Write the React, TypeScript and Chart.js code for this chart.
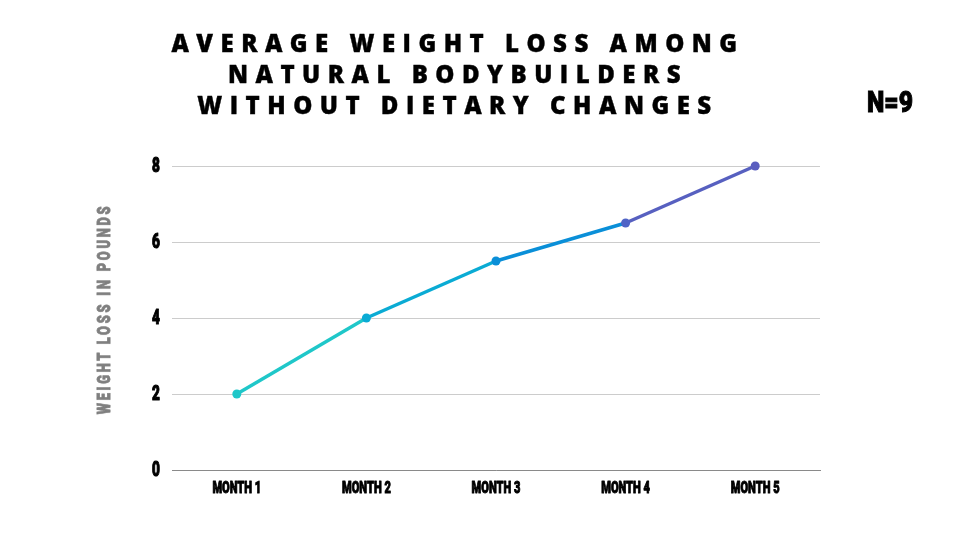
import React, { useEffect, useRef } from "react";
import { Chart, registerables } from "chart.js";

Chart.register(...registerables);

const titleLines = ["AVERAGE WEIGHT LOSS AMONG", "NATURAL BODYBUILDERS", "WITHOUT DIETARY CHANGES"];
const sampleLabel = "N=9";
const yAxisTitle = "WEIGHT LOSS IN POUNDS";
const categories = ["MONTH 1", "MONTH 2", "MONTH 3", "MONTH 4", "MONTH 5"];
const weightLoss = [2, 4, 5.5, 6.5, 8];
const segmentColors = ["#1fc7c9", "#0aabd4", "#0a8fd8", "#5760c0"];
const pointColors = ["#1fc7c9", "#0aabd4", "#0a8fd8", "#4f63c6", "#5a5ebf"];

const heavyFamily = "Roboto, 'Liberation Sans', sans-serif";

// Draws tick labels in a narrow, heavy style (horizontally compressed) at the scales' own tick positions.
const condensedTickLabels = {
  id: "condensedTickLabels",
  afterDraw(chart: any) {
    const ctx = chart.ctx as CanvasRenderingContext2D;
    const xs = chart.scales.x;
    const ys = chart.scales.y;
    ctx.save();
    ctx.fillStyle = "#000";
    ctx.strokeStyle = "#000";
    ctx.lineJoin = "round";
    ctx.textBaseline = "middle";

    ctx.font = `900 20px ${heavyFamily}`;
    ctx.textAlign = "right";
    ctx.lineWidth = 1.1;
    ys.ticks.forEach((t: any, i: number) => {
      const y = ys.getPixelForTick(i);
      ctx.save();
      ctx.translate(ys.right - 12, y + 1);
      ctx.scale(0.68, 1);
      ctx.fillText(String(t.label), 0, 0);
      ctx.strokeText(String(t.label), 0, 0);
      ctx.restore();
    });

    ctx.font = `900 17px ${heavyFamily}`;
    ctx.textAlign = "center";
    ctx.lineWidth = 1;
    xs.ticks.forEach((t: any, i: number) => {
      const x = xs.getPixelForTick(i);
      ctx.save();
      ctx.translate(x, xs.top + 19);
      ctx.scale(0.65, 1);
      ctx.fillText(String(t.label), 0, 0);
      ctx.strokeText(String(t.label), 0, 0);
      ctx.restore();
    });
    ctx.restore();
  },
};

export default function App() {
  const canvasRef = useRef<HTMLCanvasElement | null>(null);

  useEffect(() => {
    document.body.style.margin = "0";
    const canvas = canvasRef.current;
    if (!canvas) return;

    const chart = new Chart(canvas, {
      type: "line",
      data: {
        labels: categories,
        datasets: [
          {
            data: weightLoss,
            borderWidth: 3.5,
            tension: 0,
            clip: false,
            pointRadius: 4.5,
            pointHoverRadius: 4.5,
            borderColor: segmentColors[0],
            segment: {
              borderColor: (ctx: any) => segmentColors[ctx.p0DataIndex],
            },
            pointBackgroundColor: pointColors,
            pointBorderColor: pointColors,
            pointBorderWidth: 0,
          },
        ],
      },
      options: {
        responsive: false,
        animation: false,
        layout: { padding: { left: 0, top: 166, right: 140, bottom: 40 } },
        plugins: {
          legend: { display: false },
          title: { display: false },
          tooltip: { enabled: false },
        },
        scales: {
          x: {
            offset: true,
            grid: { display: false, drawTicks: false },
            border: { display: true, color: "#8a8a8a", width: 1 },
            ticks: {
              color: "rgba(0,0,0,0)",
              padding: 10,
              font: { family: heavyFamily, size: 15, weight: "bold" },
            },
            afterFit: (scale: any) => {
              scale.height = 30;
            },
          },
          y: {
            min: 0,
            max: 8,
            ticks: {
              stepSize: 2,
              color: "rgba(0,0,0,0)",
              padding: 12,
              font: { family: heavyFamily, size: 19, weight: "bold" },
            },
            grid: { color: "#cccccc", lineWidth: 1, drawTicks: false },
            border: { display: false },
            afterFit: (scale: any) => {
              scale.width = 172;
            },
          },
        },
      },
      plugins: [condensedTickLabels],
    });

    return () => chart.destroy();
  }, []);

  return (
    <div style={{ position: "absolute", left: 0, top: 0, width: 960, height: 540, background: "#fff", overflow: "hidden" }}>
      <canvas ref={canvasRef} width={960} height={540} style={{ position: "absolute", left: 0, top: 0 }} />
      <div
        style={{
          position: "absolute",
          left: 158,
          width: 600,
          top: 27,
          textAlign: "center",
          fontFamily: "'Open Sans', 'DejaVu Sans', sans-serif",
          fontWeight: 800,
          fontSize: 24,
          lineHeight: "31px",
          letterSpacing: "7.5px",
          color: "#000",
          WebkitTextStroke: "0.4px #000",
        }}
      >
        {titleLines.map((l, i) => (
          <div key={i}>{l}</div>
        ))}
      </div>
      <div
        style={{
          position: "absolute",
          left: 890,
          top: 102,
          transform: "translate(-50%, -50%) scaleX(0.85)",
          whiteSpace: "nowrap",
          fontFamily: heavyFamily,
          fontWeight: 900,
          fontSize: 29,
          lineHeight: "34px",
          color: "#000",
          WebkitTextStroke: "1px #000",
        }}
      >
        {sampleLabel}
      </div>
      <div
        style={{
          position: "absolute",
          left: 104,
          top: 309,
          transform: "translate(-50%, -50%) rotate(-90deg) scaleX(0.68)",
          whiteSpace: "nowrap",
          fontFamily: heavyFamily,
          fontWeight: 900,
          fontSize: 19,
          lineHeight: "22px",
          letterSpacing: "4px",
          color: "#7f7f7f",
          WebkitTextStroke: "0.8px #7f7f7f",
        }}
      >
        {yAxisTitle}
      </div>
    </div>
  );
}
